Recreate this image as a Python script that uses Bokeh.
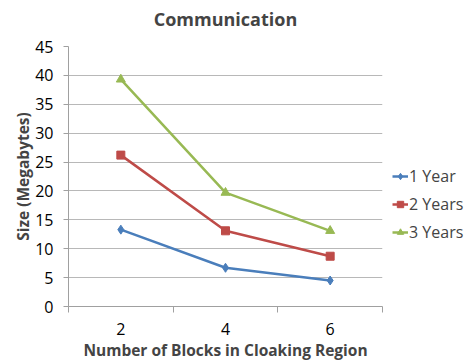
from bokeh.plotting import figure
from bokeh.models import FixedTicker, Legend, LegendItem, Range1d, Title
from bokeh.embed import file_html
from bokeh.resources import INLINE

# Number of blocks in the cloaking region
blocks = [2, 4, 6]
tick_labels = ["2", "4", "6"]

# Communication size in megabytes per horizon
one_year = [13.3, 6.7, 4.5]
two_years = [26.2, 13.1, 8.7]
three_years = [39.3, 19.7, 13.1]

series_names = ["1 Year", "2 Years", "3 Years"]
colors = ["#4A7EBB", "#BE4B48", "#98B954"]

FONT = "Open Sans"

p = figure(frame_width=314, frame_height=260, output_backend="svg",
           toolbar_location=None,
           x_range=Range1d(1, 7), y_range=Range1d(0, 45),
           min_border_left=68, min_border_right=84, min_border_top=46,
           min_border_bottom=54)
p.outline_line_color = None
p.background_fill_color = "white"
p.border_fill_color = "white"

p.title.text = "Communication"
p.title.text_font = FONT
p.title.text_font_style = "bold"
p.title.text_font_size = "18px"
p.title.align = "center"
p.title.standoff = 6

# blank spacer row between the frame and the chart title
p.add_layout(Title(text=" ", text_font=FONT, text_font_size="8px", standoff=0),
             "above")

# x axis: labels at category centres, tick marks at category boundaries
p.xaxis.ticker = FixedTicker(ticks=blocks, minor_ticks=[1, 3, 5, 7])
p.xaxis.major_label_overrides = {b: t for b, t in zip(blocks, tick_labels)}
p.xaxis.major_tick_line_color = None
p.xaxis.minor_tick_line_color = "#A0A0A0"
p.xaxis.minor_tick_in = 0
p.xaxis.minor_tick_out = 6
p.xaxis.axis_line_color = "#A0A0A0"
p.xaxis.major_label_text_font = FONT
p.xaxis.major_label_text_font_size = "16px"
p.xaxis.major_label_text_color = "black"
p.xaxis.major_label_standoff = 10
p.xaxis.axis_label = "Number of Blocks in Cloaking Region"
p.xaxis.axis_label_text_font = FONT
p.xaxis.axis_label_text_font_style = "bold"
p.xaxis.axis_label_text_font_size = "15.5px"
p.xaxis.axis_label_standoff = 1

# y axis
p.yaxis.ticker = FixedTicker(ticks=list(range(0, 50, 5)))
p.yaxis.axis_line_color = "#A0A0A0"
p.yaxis.major_tick_line_color = "#A0A0A0"
p.yaxis.major_tick_in = 0
p.yaxis.major_tick_out = 5
p.yaxis.minor_tick_line_color = None
p.yaxis.major_label_text_font = FONT
p.yaxis.major_label_text_font_size = "16px"
p.yaxis.major_label_text_color = "black"
p.yaxis.major_label_standoff = 10
p.yaxis.axis_label = "Size (Megabytes)"
p.yaxis.axis_label_text_font = FONT
p.yaxis.axis_label_text_font_style = "bold"
p.yaxis.axis_label_text_font_size = "15.5px"
p.yaxis.axis_label_standoff = -2

p.xgrid.grid_line_color = None
p.ygrid.ticker = FixedTicker(ticks=list(range(5, 50, 5)))
p.ygrid.grid_line_color = "#B8B8B8"
p.ygrid.grid_line_width = 1

items = []
for name, vals, col, marker in zip(series_names, [one_year, two_years, three_years],
                                   colors, ["diamond", "square", "triangle"]):
    ln = p.line(blocks, vals, line_color=col, line_width=2.5)
    size = {"diamond": 9, "square": 8, "triangle": 9}[marker]
    sc = p.scatter(blocks, vals, marker=marker, size=size, fill_color=col,
                   line_color=col)
    items.append(LegendItem(label=name, renderers=[ln, sc]))

legend = Legend(items=items, location=(10, 63), orientation="vertical",
                label_text_font=FONT, label_text_font_size="16px",
                label_standoff=1, glyph_width=16, spacing=6,
                background_fill_alpha=0, border_line_color=None, padding=0,
                margin=0)
p.add_layout(legend, "right")

open("out.html", "w").write(file_html(p, INLINE))
